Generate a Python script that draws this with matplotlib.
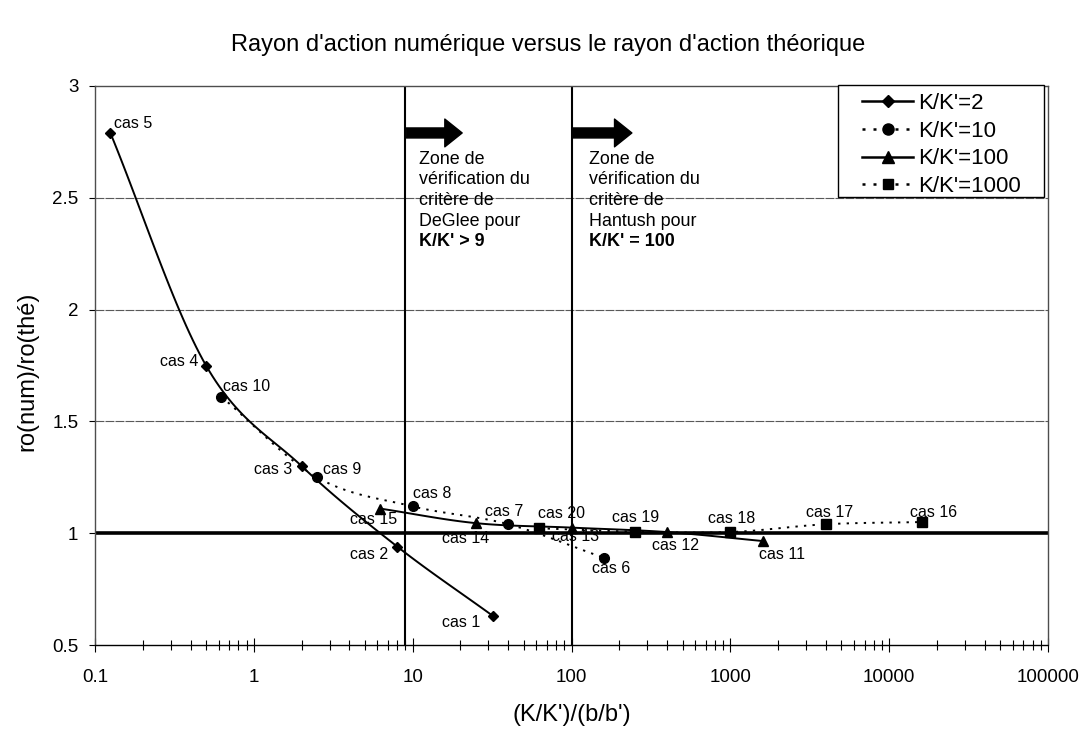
import numpy as np
import matplotlib
matplotlib.use('Agg')
from matplotlib import pyplot as plt
from matplotlib.patches import Rectangle

plt.rcParams['font.family'] = ['Liberation Sans', 'DejaVu Sans']

# Data: (K/K')/(b/b') and ro(num)/ro(thé)
series_names = ["K/K'=2", "K/K'=10", "K/K'=100", "K/K'=1000"]
x_k2 = [0.125, 0.5, 2, 8, 32]
y_k2 = [2.79, 1.75, 1.30, 0.94, 0.63]
lab_k2 = ['cas 5', 'cas 4', 'cas 3', 'cas 2', 'cas 1']

x_k10 = [0.625, 2.5, 10, 40, 160]
y_k10 = [1.61, 1.25, 1.12, 1.04, 0.89]
lab_k10 = ['cas 10', 'cas 9', 'cas 8', 'cas 7', 'cas 6']

x_k100 = [6.25, 25, 100, 400, 1600]
y_k100 = [1.11, 1.045, 1.025, 1.005, 0.965]
lab_k100 = ['cas 15', 'cas 14', 'cas 13', 'cas 12', 'cas 11']

x_k1000 = [62.5, 250, 1000, 4000, 16000]
y_k1000 = [1.022, 1.007, 1.005, 1.04, 1.05]
lab_k1000 = ['cas 20', 'cas 19', 'cas 18', 'cas 17', 'cas 16']

x_ticks = [0.1, 1, 10, 100, 1000, 10000, 100000]
x_ticklabels = ['0.1', '1', '10', '100', '1000', '10000', '100000']
y_ticks = [0.5, 1, 1.5, 2, 2.5, 3]
y_ticklabels = ['0.5', '1', '1.5', '2', '2.5', '3']

# label offsets in pixels (dx, dy, ha)
offs = {
    'cas 5': (4, 9, 'left'), 'cas 4': (-8, 4, 'right'), 'cas 3': (-9, -3, 'right'),
    'cas 2': (-9, -8, 'right'), 'cas 1': (-13, -7, 'right'),
    'cas 10': (2, 10, 'left'), 'cas 9': (6, 8, 'left'), 'cas 8': (0, 13, 'left'),
    'cas 7': (-4, 13, 'center'), 'cas 6': (7, -11, 'center'),
    'cas 15': (-7, -11, 'center'), 'cas 14': (-10, -15, 'center'),
    'cas 13': (4, -9, 'center'), 'cas 12': (8, -13, 'center'), 'cas 11': (19, -13, 'center'),
    'cas 20': (22, 15, 'center'), 'cas 19': (1, 14, 'center'), 'cas 18': (1, 14, 'center'),
    'cas 17': (4, 12, 'center'), 'cas 16': (12, 10, 'center'),
}


def smooth(xs, ys, n=30):
    # Catmull-Rom curve through the points, in log-x space (like Excel smoothed lines)
    lx = np.log10(xs)
    py = np.array(ys, dtype=float)
    P = np.column_stack([lx * 159.0, py * 223.6])
    P = np.vstack([2 * P[0] - P[1], P, 2 * P[-1] - P[-2]])
    out = []
    t = np.linspace(0, 1, n)[:, None]
    for i in range(1, len(P) - 2):
        p0, p1, p2, p3 = P[i - 1], P[i], P[i + 1], P[i + 2]
        seg = 0.5 * ((2 * p1) + (-p0 + p2) * t + (2 * p0 - 5 * p1 + 4 * p2 - p3) * t ** 2
                     + (-p0 + 3 * p1 - 3 * p2 + p3) * t ** 3)
        out.append(seg)
    out = np.vstack(out)
    return 10 ** (out[:, 0] / 159.0), out[:, 1] / 223.6


fig = plt.figure(figsize=(10.9, 7.32), dpi=100)
ax = fig.add_axes([95 / 1090, 1 - 645 / 732, (1048 - 95) / 1090, (645 - 86) / 732])
ax.set_xscale('log')
ax.set_xlim(0.1, 100000)
ax.set_ylim(0.5, 3)

# grid and reference lines
for g in [1.5, 2, 2.5]:
    ax.axhline(g, color='0.35', lw=0.8, ls=(0, (8, 1)), zorder=1)
ax.axhline(1, color='black', lw=2.6, zorder=2)
ax.axvline(9, color='black', lw=1.5, zorder=2)
ax.axvline(100, color='black', lw=1.5, zorder=2)

dot = (0, (1.2, 3.2))
styles = [
    (x_k2, y_k2, lab_k2, '-', 'D', 5.5),
    (x_k10, y_k10, lab_k10, dot, 'o', 7),
    (x_k100, y_k100, lab_k100, '-', '^', 7),
    (x_k1000, y_k1000, lab_k1000, dot, 's', 6.5),
]
handles = []
for (xs, ys, labs, ls, mk, ms), name in zip(styles, series_names):
    sx, sy = smooth(xs, ys)
    ax.plot(sx, sy, color='black', lw=1.4, ls=ls, zorder=3)
    ax.plot(xs, ys, ls='none', marker=mk, ms=ms, color='black', zorder=4)
    h, = ax.plot([], [], color='black', lw=1.8, ls=ls, marker=mk, ms=ms + 1)
    handles.append(h)
    for x, y, lab in zip(xs, ys, labs):
        dx, dy, ha = offs[lab]
        ax.annotate(lab, (x, y), xytext=(dx, dy), textcoords='offset pixels',
                    ha=ha, va='center', fontsize=11.5, zorder=5)

# arrows and zone texts
arrow = dict(arrowstyle='simple,head_length=1.25,head_width=2.0,tail_width=0.72',
             color='black', shrinkA=0, shrinkB=0)
ax.annotate('', xy=(20.5, 2.79), xytext=(9.1, 2.79), arrowprops=arrow, zorder=5)
ax.annotate('', xy=(240, 2.79), xytext=(101, 2.79), arrowprops=arrow, zorder=5)

zfs = 12.9
ax.text(10.9, 2.71, "Zone de\nvérification du\ncritère de\nDeGlee pour",
        fontsize=zfs, va='top', ha='left', linespacing=1.28)
ax.annotate("K/K' > 9", (10.9, 2.71), xytext=(0, -82), textcoords='offset pixels',
            fontsize=zfs, va='top', ha='left', fontweight='bold')
ax.text(128, 2.71, "Zone de\nvérification du\ncritère de\nHantush pour",
        fontsize=zfs, va='top', ha='left', linespacing=1.28)
ax.annotate("K/K' = 100", (128, 2.71), xytext=(0, -82), textcoords='offset pixels',
            fontsize=zfs, va='top', ha='left', fontweight='bold')

# axes styling
ax.set_xticks(x_ticks)
ax.set_xticklabels(x_ticklabels)
ax.set_yticks(y_ticks)
ax.set_yticklabels(y_ticklabels)
ax.tick_params(axis='x', which='major', direction='inout', length=10, width=0.8,
               labelsize=13.5, pad=12)
ax.tick_params(axis='x', which='minor', direction='inout', length=7, width=0.8)
ax.tick_params(axis='y', which='major', direction='out', length=4, width=0.8,
               labelsize=13.5, pad=8)
for side in ['top', 'right', 'left']:
    ax.spines[side].set_linestyle((0, (1, 1)))
    ax.spines[side].set_color('0.3')
    ax.spines[side].set_linewidth(1.0)
ax.spines['bottom'].set_linestyle((0, (2, 1)))
ax.spines['bottom'].set_linewidth(1.0)

ax.set_xlabel("(K/K')/(b/b')", fontsize=17)
ax.xaxis.set_label_coords(0.5, (645 - 704) / 559)
ax.set_ylabel("ro(num)/ro(thé)", fontsize=17)
ax.yaxis.set_label_coords((38 - 95) / 953, 0.49)
fig.suptitle("Rayon d'action numérique versus le rayon d'action théorique",
             fontsize=17, y=1 - 45 / 732, va='center', x=548 / 1090)

# legend with a wide Excel-like frame
frame = Rectangle((838 / 1090, 1 - 197 / 732), 206 / 1090, 112 / 732,
                  transform=fig.transFigure, facecolor='white',
                  edgecolor='black', lw=1.0, zorder=6, clip_on=False)
ax.add_artist(frame)
leg = ax.legend(handles, series_names, loc='upper left',
                bbox_to_anchor=(862 / 1090, 1 - 93 / 732), bbox_transform=fig.transFigure,
                fontsize=16, frameon=False, borderaxespad=0, borderpad=0,
                handlelength=2.3, handletextpad=0.22, labelspacing=0.3)
leg.set_zorder(7)

fig.savefig('out.png', dpi=100)
